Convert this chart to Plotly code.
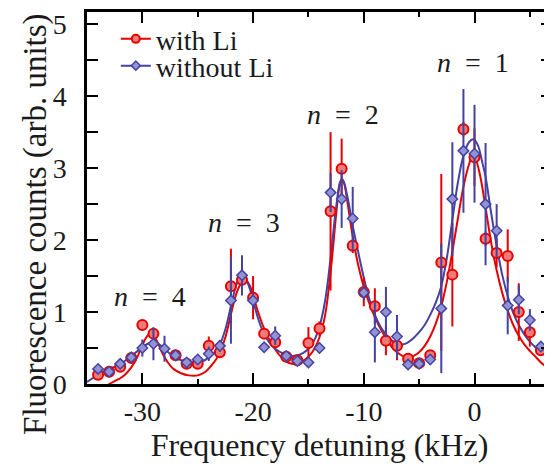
import plotly.graph_objects as go

# detuning (kHz) of the measured points
freq = [-34, -33, -32, -31, -30, -29, -28, -27, -26, -25, -24, -23, -22, -21, -20,
        -19, -18, -17, -16, -15, -14, -13, -12, -11, -10, -9, -8, -7, -6, -5,
        -4, -3, -2, -1, 0, 1, 2, 3, 4, 5, 6]

with_li = [0.13, 0.17, 0.24, 0.36, 0.82, 0.70, None, 0.40, 0.28, 0.28, 0.53, 0.44, 1.36, 1.45, 1.20,
           0.70, 0.58, 0.38, 0.33, 0.57, 0.77, 2.40, 2.99, 1.92, 1.28, 1.08, 0.60, 0.53, 0.35, 0.29,
           0.40, 1.69, 1.52, 3.54, 3.15, 2.02, 1.82, 1.78, 1.00, 0.72, 0.47]
with_li_err = [0.03, 0.03, 0.03, 0.03, 0.03, 0.05, None, 0.03, 0.03, 0.05, 0.13, 0.05, 0.52, 0.10, 0.30,
               0.03, 0.05, 0.05, 0.05, 0.22, 0.10, 1.10, 0.42, 0.10, 0.20, 0.25, 0.20, 0.20, 0.05, 0.05,
               0.03, 1.23, 0.72, 0.10, 0.40, 0.10, 0.20, 0.37, 0.40, 0.20, 0.05]

without_li = [0.21, 0.17, 0.28, 0.37, 0.50, 0.56, 0.49, 0.40, 0.30, 0.34, 0.42, 0.53, 1.16, 1.51, 1.16,
              0.51, 0.67, 0.39, 0.32, 0.30, 0.50, 2.66, 2.57, 2.30, 1.27, 0.72, 1.00, 0.66, 0.27, 0.28,
              0.34, 1.05, 2.57, 3.24, 3.20, 2.50, 2.13, 1.09, 1.17, 0.89, 0.52]
without_li_err = [0.05, 0.05, 0.05, 0.05, 0.12, 0.23, 0.18, 0.05, 0.05, 0.05, 0.10, 0.08, 0.60, 0.28, 0.10,
                  0.05, 0.13, 0.05, 0.05, 0.05, 0.05, 0.27, 0.40, 0.44, 0.10, 0.42, 0.35, 0.30, 0.05, 0.05,
                  0.05, 0.90, 0.79, 0.86, 0.68, 0.85, 0.37, 0.40, 0.20, 0.15, 0.05]

# fitted curves
fit_red_x = [-33.5, -33, -32.5, -32, -31.5, -31, -30.5, -30, -29.6, -29.3, -29, -28.6, -28.2, -27.7,
             -27.2, -26.5, -25.8, -25, -24.3, -23.8, -23.3, -23, -22.5, -22, -21.5, -21, -20.7, -20.3,
             -20, -19.5, -19, -18.5, -18, -17.5, -17, -16.5, -16, -15.5, -15, -14.5, -14, -13.5, -13,
             -12.5, -12.2, -12, -11.8, -11.5, -11, -10.5, -10, -9.5, -9, -8.5, -8, -7.5, -7, -6.5, -6,
             -5.5, -5, -4.5, -4, -3.5, -3, -2.5, -2, -1.5, -1, -0.5, -0.2, 0.1, 0.5, 1, 1.5, 2, 2.5, 3,
             3.5, 4, 4.5, 5, 5.5, 6, 6.5, 7]
fit_red_y = [-0.05, 0.0, 0.04, 0.08, 0.14, 0.23, 0.36, 0.54, 0.66, 0.70, 0.68, 0.57, 0.43, 0.30,
             0.21, 0.15, 0.12, 0.12, 0.17, 0.25, 0.35, 0.44, 0.65, 0.97, 1.26, 1.42, 1.45, 1.37,
             1.23, 0.98, 0.77, 0.61, 0.48, 0.38, 0.31, 0.28, 0.28, 0.32, 0.38, 0.48, 0.65, 0.95, 1.55,
             2.35, 2.75, 2.84, 2.80, 2.55, 2.05, 1.65, 1.35, 1.12, 0.93, 0.77, 0.64, 0.52, 0.44, 0.39, 0.37,
             0.39, 0.44, 0.53, 0.66, 0.84, 1.08, 1.42, 1.84, 2.30, 2.74, 3.05, 3.16, 3.12, 2.90, 2.45, 1.97,
             1.58, 1.27, 1.02, 0.82, 0.67, 0.55, 0.46, 0.38, 0.30, 0.24, 0.20]

fit_blue_x = [-35, -34.5, -34, -33.5, -33, -32.5, -32, -31.5, -31, -30.5, -30, -29.5, -29, -28.5, -28,
              -27.5, -27, -26.5, -26, -25.5, -25, -24.5, -24, -23.5, -23, -22.5, -22, -21.5, -21.1,
              -20.8, -20.4, -20, -19.5, -19, -18.5, -18, -17.5, -17, -16.5, -16, -15.5, -15, -14.5, -14,
              -13.5, -13, -12.5, -12.1, -11.9, -11.5, -11, -10.5, -10, -9.5, -9, -8.5, -8, -7.5, -7,
              -6.5, -6, -5.5, -5, -4.5, -4, -3.5, -3, -2.5, -2, -1.5, -1, -0.5, -0.1, 0.3, 0.7, 1, 1.5,
              2, 2.5, 3, 3.5, 4, 4.5, 5, 5.5, 6, 6.5, 7]
fit_blue_y = [0.03, 0.08, 0.13, 0.17, 0.21, 0.24, 0.28, 0.33, 0.39, 0.45, 0.51, 0.56, 0.58, 0.55, 0.49,
              0.42, 0.37, 0.33, 0.31, 0.30, 0.30, 0.32, 0.37, 0.44, 0.55, 0.76, 1.08, 1.38, 1.51,
              1.50, 1.37, 1.16, 0.89, 0.69, 0.57, 0.49, 0.44, 0.41, 0.39, 0.40, 0.43, 0.49, 0.60, 0.80,
              1.15, 1.75, 2.45, 2.82, 2.84, 2.62, 2.20, 1.83, 1.48, 1.18, 0.96, 0.80, 0.69, 0.61, 0.56,
              0.55, 0.58, 0.64, 0.72, 0.82, 0.96, 1.13, 1.36, 1.75, 2.28, 2.80, 3.17, 3.36, 3.40, 3.32, 3.08,
              2.88, 2.38, 1.92, 1.52, 1.22, 0.99, 0.82, 0.69, 0.59, 0.51, 0.45, 0.39, 0.35]

x_ticks = [-30, -20, -10, 0]
x_tick_text = ["-30", "-20", "-10", "0"]
peak_labels = ["<i>n</i>\u2002=\u20021", "<i>n</i>\u2002=\u20022", "<i>n</i>\u2002=\u20023", "<i>n</i>\u2002=\u20024"]
peak_x = [-0.1, -11.9, -20.8, -29.3]
peak_y = [4.47, 3.74, 2.25, 1.22]

RED = "#e60000"
BLUE = "#4343a3"
RED_FILL = "#ee7a7a"
BLUE_FILL = "#9393d3"
FONT = "Liberation Serif"
INK = "#1a1a1a"

fig = go.Figure()

# fit curves
fig.add_trace(go.Scatter(x=fit_red_x, y=fit_red_y, mode="lines", line=dict(color=RED, width=2, shape="spline"),
                         showlegend=False, hoverinfo="skip"))
fig.add_trace(go.Scatter(x=fit_blue_x, y=fit_blue_y, mode="lines", line=dict(color=BLUE, width=2, shape="spline"),
                         showlegend=False, hoverinfo="skip"))

# data points
fig.add_trace(go.Scatter(
    x=freq, y=with_li, mode="markers", showlegend=False,
    error_y=dict(type="data", array=with_li_err, color=RED, thickness=2, width=0),
    marker=dict(symbol="circle", size=10, color=RED_FILL, line=dict(color=RED, width=2))))
fig.add_trace(go.Scatter(
    x=freq, y=without_li, mode="markers", showlegend=False,
    error_y=dict(type="data", array=without_li_err, color=BLUE, thickness=2, width=0),
    marker=dict(symbol="diamond", size=8, color=BLUE_FILL, line=dict(color=BLUE, width=1.5))))

# legend entries, one legend box each so the rows can sit close together
fig.add_trace(go.Scatter(x=[None], y=[None], mode="lines+markers", name="with Li", legend="legend",
                         line=dict(color=RED, width=2),
                         marker=dict(symbol="circle", size=8, color=RED_FILL, line=dict(color=RED, width=2))))
fig.add_trace(go.Scatter(x=[None], y=[None], mode="lines+markers", name="without Li", legend="legend2",
                         line=dict(color=BLUE, width=2),
                         marker=dict(symbol="diamond", size=7, color=BLUE_FILL, line=dict(color=BLUE, width=1.5))))

for txt, px, py in zip(peak_labels, peak_x, peak_y):
    fig.add_annotation(x=px, y=py, text=txt, showarrow=False,
                       font=dict(family=FONT, size=28, color=INK))

fig.add_annotation(xref="paper", yref="paper", x=-0.112, y=0.43, xanchor="center", yanchor="middle",
                   text="Fluorescence counts (arb. units)", textangle=-90, showarrow=False,
                   font=dict(family=FONT, size=33, color=INK))

legend_style = dict(xanchor="left", yanchor="middle", bgcolor="rgba(0,0,0,0)",
                    font=dict(family=FONT, size=28, color=INK), itemwidth=30, borderwidth=0)

# the page body adds an 8 px margin, so the figure is 8 px smaller than the window
fig.update_layout(
    width=544, height=462,
    margin=dict(l=79, r=0, t=4, b=86, autoexpand=False),
    plot_bgcolor="white", paper_bgcolor="white",
    font=dict(family=FONT, size=28, color=INK),
    showlegend=True,
    legend=dict(x=0.062, y=0.927, **legend_style),
    legend2=dict(x=0.062, y=0.855, **legend_style),
    xaxis=dict(range=[-35, 7], tickvals=x_ticks, ticktext=x_tick_text, ticks="inside", ticklen=11,
               tickwidth=2, tickcolor="black", showline=True, linecolor="black", linewidth=2.5,
               mirror="ticks", showgrid=False, zeroline=False, ticklabelstandoff=1,
               minor=dict(dtick=5, tick0=0, ticks="inside", ticklen=5, tickwidth=2, tickcolor="black"),
               title=dict(text="Frequency detuning (kHz)", font=dict(family=FONT, size=32, color=INK), standoff=8)),
    yaxis=dict(range=[0, 5.17], tickvals=[0, 1, 2, 3, 4, 5], ticks="inside", ticklen=11, tickwidth=2,
               tickcolor="black", showline=True, linecolor="black", linewidth=2.5, mirror="ticks",
               showgrid=False, zeroline=False, ticklabelstandoff=12,
               minor=dict(dtick=0.5, ticks="inside", ticklen=11, tickwidth=2, tickcolor="black")),
)

fig.write_html("out.html")
